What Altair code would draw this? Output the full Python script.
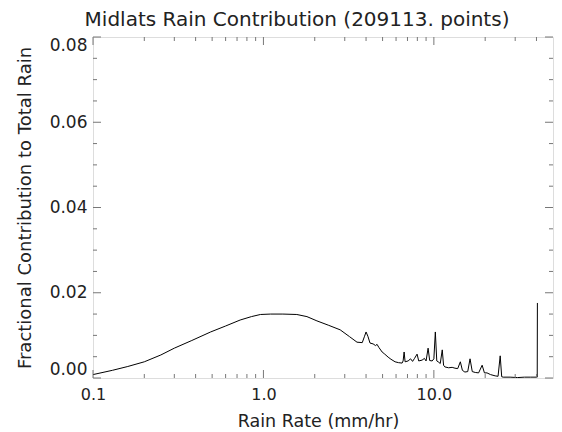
import altair as alt
import pandas as pd

# Rain rate bins (mm/hr) and fractional contribution to total rain
rate = [0.10, 0.13, 0.16, 0.20, 0.25, 0.30, 0.38, 0.49, 0.60, 0.73, 0.85, 0.96,
        1.10, 1.30, 1.57, 1.80, 2.06, 2.40, 2.82, 3.20, 3.54, 3.80, 3.92, 4.00,
        4.10, 4.22, 4.40, 4.55, 4.64, 4.75, 4.97, 5.15, 5.39, 5.60, 5.92, 6.20,
        6.51, 6.60, 6.69, 6.78, 7.06, 7.30, 7.50, 7.70, 7.97, 8.15, 8.53, 8.80,
        9.00, 9.25, 9.45, 9.77, 10.0, 10.2, 10.4, 10.6, 10.9, 11.2, 11.4, 11.6,
        12.2, 12.8, 13.3, 13.8, 14.3, 14.7, 15.2, 15.8, 16.3, 16.8, 17.5, 18.3,
        19.2, 19.8, 20.5, 21.5, 22.9, 23.8, 24.5, 25.0, 25.5, 28.0, 31.0, 34.0,
        37.0, 40.4, 40.5]
frac = [0.0008, 0.0018, 0.0027, 0.0038, 0.0054, 0.0070, 0.0088, 0.0108, 0.0122, 0.0136, 0.0144, 0.0149,
        0.0150, 0.0150, 0.0149, 0.0144, 0.0134, 0.0124, 0.0113, 0.0097, 0.0084, 0.0083, 0.0098, 0.0108,
        0.0098, 0.0082, 0.0080, 0.0076, 0.0079, 0.0072, 0.0061, 0.0056, 0.0049, 0.0044, 0.0038, 0.0036,
        0.0035, 0.0040, 0.0061, 0.0038, 0.0040, 0.0045, 0.0039, 0.0046, 0.0056, 0.0040, 0.0042, 0.0046,
        0.0040, 0.0070, 0.0041, 0.0040, 0.0045, 0.0108, 0.0040, 0.0038, 0.0034, 0.0066, 0.0030, 0.0026,
        0.0024, 0.0025, 0.0023, 0.0022, 0.0038, 0.0018, 0.0014, 0.0015, 0.0045, 0.0015, 0.0013, 0.0012,
        0.0030, 0.0012, 0.0012, 0.0008, 0.0005, 0.0004, 0.0052, 0.0003, 0.0002, 0.0002, 0.0001, 0.0002,
        0.0002, 0.0002, 0.0176]

x_major = [0.1, 1.0, 10.0]
x_minor = [0.2, 0.3, 0.4, 0.5, 0.6, 0.7, 0.8, 0.9, 2, 3, 4, 5, 6, 7, 8, 9, 20, 30, 40]
y_major = [0.0, 0.02, 0.04, 0.06, 0.08]
y_minor = [0.005, 0.01, 0.015, 0.025, 0.03, 0.035, 0.045, 0.05, 0.055, 0.065, 0.07, 0.075]

title_text = "Midlats Rain Contribution (209113. points)"
x_title = "Rain Rate (mm/hr)"
y_title = "Fractional Contribution to Total Rain"

W, H = 460, 341
FONT = "DejaVu Sans"
TXT = "#222222"
TICK = "#777777"

df = pd.DataFrame({"rate": rate, "frac": frac, "idx": list(range(len(rate)))})
xscale = alt.Scale(type="log", domain=[0.1, 50], nice=False)
yscale = alt.Scale(domain=[0, 0.08], nice=False, zero=False)

xaxis = alt.Axis(values=x_major, format=".1f", grid=False, domain=False, ticks=False,
                 labelFlush=False, labelPadding=8, labelFontSize=16, labelFont=FONT,
                 labelColor=TXT, title=x_title, titleFont=FONT, titleFontSize=17.5,
                 titleFontWeight="normal", titleColor=TXT, titleX=225, titleY=43,
                 titleBaseline="middle")
yaxis = alt.Axis(values=y_major, format=".2f", grid=False, domain=False, ticks=False,
                 labelFlush=True, labelPadding=6, labelFontSize=17, labelFont=FONT,
                 labelColor=TXT, title=y_title, titleFont=FONT, titleFontSize=18,
                 titleFontWeight="normal", titleColor=TXT, titleX=-68, titleY=H / 2,
                 titleBaseline="middle", titleAngle=-90)

line = alt.Chart(df).mark_line(color="black", strokeWidth=1, clip=True).encode(
    x=alt.X("rate:Q", scale=xscale, axis=xaxis),
    y=alt.Y("frac:Q", scale=yscale, axis=yaxis),
    order="idx:Q",
)

def xticks(vals, length):
    d = pd.DataFrame({"v": vals})
    base = alt.Chart(d).mark_rule(color=TICK, strokeWidth=1)
    bot = base.encode(x=alt.X("v:Q", scale=xscale, axis=xaxis),
                      y=alt.value(H), y2=alt.value(H - length))
    top = base.encode(x=alt.X("v:Q", scale=xscale, axis=xaxis),
                      y=alt.value(0), y2=alt.value(length))
    return [bot, top]

def yticks(vals, length):
    d = pd.DataFrame({"v": vals})
    base = alt.Chart(d).mark_rule(color=TICK, strokeWidth=1)
    left = base.encode(y=alt.Y("v:Q", scale=yscale, axis=yaxis),
                       x=alt.value(0), x2=alt.value(length))
    right = base.encode(y=alt.Y("v:Q", scale=yscale, axis=yaxis),
                        x=alt.value(W), x2=alt.value(W - length))
    return [left, right]

layers = [line] + xticks(x_major, 8) + xticks(x_minor, 4) + yticks(y_major, 8) + yticks(y_minor, 4)

chart = alt.layer(*layers).properties(
    width=W, height=H,
    title=alt.TitleParams(title_text, font=FONT, fontSize=20, fontWeight="normal",
                          color=TXT, anchor="middle", frame="group", dx=-26, dy=20,
                          baseline="alphabetic", offset=10),
    autosize=alt.AutoSizeParams(type="none"),
    padding={"left": 85, "top": 29, "right": 1, "bottom": 54},
).configure_view(stroke="#555555", strokeWidth=1).configure(background="white")

chart.save("out.html", embed_options={"renderer": "svg", "actions": False})
